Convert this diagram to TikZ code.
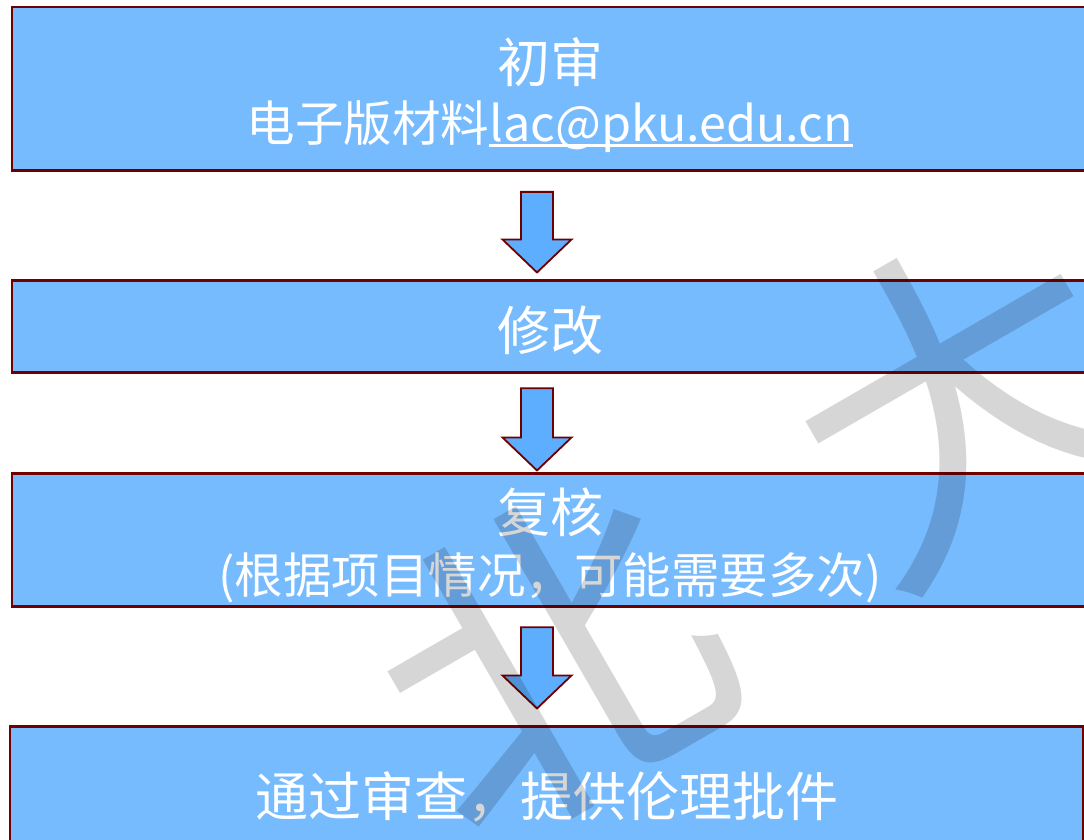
\documentclass[tikz,border=0pt]{standalone}
\usepackage{fontspec}
\setmainfont{Noto Sans CJK SC}
\usetikzlibrary{positioning,calc}
\definecolor{boxblue}{RGB}{119,187,255}
\definecolor{arrowblue}{RGB}{94,174,255}
\definecolor{borderred}{RGB}{112,0,0}
\newcommand{\mailline}[1]{\setbox0\hbox{#1}\rlap{\rule[-6pt]{\wd0}{2.8pt}}\box0}

\begin{document}
\begin{tikzpicture}[x=1pt,y=1pt,
	stage/.style={draw=borderred,fill=boxblue,line width=2.7pt,minimum width=1076pt,text=white,align=center,font=\fontsize{53}{62}\selectfont},
	stamp/.style={rotate=30,text=black,text opacity=0.16,font=\fontsize{335}{335}\selectfont},
	flowarrow/.style 2 args={draw=borderred,fill=arrowblue,line width=1.8pt,
		to path={let \p1=(\tikztostart), \p2=(\tikztotarget) in
			(\x1-29pt,\y1-#1) -- (\x1+3pt,\y1-#1) -- (\x1+3pt,\y2+#2+33pt) -- (\x1+21.5pt,\y2+#2+33pt)
			-- (\x1-13pt,\y2+#2) -- (\x1-47.5pt,\y2+#2+33pt) -- (\x1-29pt,\y2+#2+33pt) -- cycle}}]

	\useasboundingbox (0,0) rectangle (1084,-839);

	\node[stage, minimum height=163.5pt] (first) at (550,-88.75) {\rule{0pt}{57pt}初审\\[-3pt]{\fontsize{48.5}{62}\selectfont 电子版材料\mailline{lac@pku.edu.cn}}};
	\node[stage, minimum height=92pt] (revise) [below=107.6pt of first] {\rule{0pt}{52.6pt}修改};
	\node[stage, minimum height=133pt] (recheck) [below=98.3pt of revise] {\rule{0pt}{55pt}复核\\[-1pt]{\fontsize{48.5}{62}\selectfont (根据项目情况，可能需要多次)}};
	\node[stage, minimum height=140pt, minimum width=1073pt] (approve) [below=117.3pt of recheck, xshift=-3.5pt] {通过审查，提供伦理批件};

	\path[flowarrow={20pt}{7pt}] (first.south) to (revise.north);
	\path[flowarrow={14pt}{2pt}] (revise.south) to (recheck.north);
	\path[flowarrow={19pt}{17pt}] (recheck.south) to (approve.north);

	% watermark
	\node[stamp] (stampbei) at (550,-660) {北};
	\node[stamp] (stampda) at (962,-398) {大};

\end{tikzpicture}
\end{document}
